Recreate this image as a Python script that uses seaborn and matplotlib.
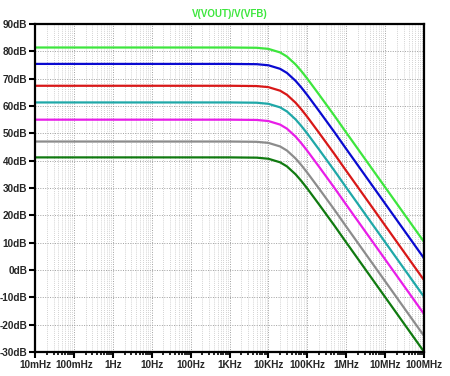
import pandas as pd
import seaborn as sns
import matplotlib.pyplot as plt
from matplotlib.ticker import LogLocator, FixedLocator, NullFormatter

# frequency points (Hz)
freq = [0.01, 1e3, 5e3, 1e4, 2e4, 3e4, 5e4, 7e4, 1e5, 2e5, 5e5, 1e6, 1e7, 1e8]

# gain in dB for each trace, top to bottom
green = [81.4, 81.4, 81.3, 80.9, 79.6, 78.1, 75.2, 72.8, 70.0, 64.2, 56.4, 50.3, 30.3, 10.3]
blue = [75.4, 75.4, 75.3, 74.9, 73.6, 72.1, 69.2, 66.8, 64.0, 58.2, 50.4, 44.3, 24.3, 4.3]
red = [67.4, 67.4, 67.3, 66.9, 65.6, 64.1, 61.2, 58.8, 56.0, 50.2, 42.4, 36.3, 16.3, -3.7]
cyan = [61.3, 61.3, 61.2, 60.8, 59.5, 58.0, 55.1, 52.7, 49.9, 44.1, 36.3, 30.2, 10.2, -9.8]
magenta = [55.0, 55.0, 54.9, 54.5, 53.2, 51.7, 48.8, 46.4, 43.6, 37.8, 30.0, 23.9, 3.9, -16.1]
gray = [47.0, 47.0, 46.9, 46.5, 45.2, 43.7, 40.8, 38.4, 35.6, 29.8, 22.0, 15.9, -4.1, -24.1]
dkgreen = [41.2, 41.2, 41.1, 40.7, 39.4, 37.9, 35.0, 32.6, 29.8, 24.0, 16.2, 10.1, -9.9, -29.9]

traces = {"green": green, "blue": blue, "red": red, "cyan": cyan,
          "magenta": magenta, "gray": gray, "dkgreen": dkgreen}
colors = {"green": "#3de63d", "blue": "#0a0ad0", "red": "#d81818", "cyan": "#1fa8a8",
          "magenta": "#e81ee8", "gray": "#8c8c8c", "dkgreen": "#107a10"}

x_ticks = [1e-2, 1e-1, 1, 1e1, 1e2, 1e3, 1e4, 1e5, 1e6, 1e7, 1e8]
x_labels = ["10mHz", "100mHz", "1Hz", "10Hz", "100Hz", "1KHz", "10KHz",
            "100KHz", "1MHz", "10MHz", "100MHz"]
y_ticks = list(range(-30, 91, 10))
y_labels = [f"{v}dB" for v in y_ticks]

rows = []
for name, vals in traces.items():
    for f, v in zip(freq, vals):
        rows.append({"freq": f, "db": v, "trace": name})
df = pd.DataFrame(rows)

sns.set_theme(style="white")
plt.rcParams["font.family"] = ["Liberation Sans", "DejaVu Sans"]

fig = plt.figure(figsize=(4.5, 3.76), dpi=100)
ax = fig.add_axes([35 / 450, 24 / 376, 389 / 450, 328 / 376])

sns.lineplot(data=df, x="freq", y="db", hue="trace", palette=colors,
             linewidth=1.6, legend=False, sort=False, ax=ax)

ax.set_xscale("log")
ax.set_xlim(1e-2, 1e8)
ax.set_ylim(-30, 90)

ax.xaxis.set_major_locator(FixedLocator(x_ticks))
ax.set_xticklabels(x_labels)
ax.xaxis.set_minor_locator(LogLocator(base=10, subs=range(2, 10), numticks=100))
ax.xaxis.set_minor_formatter(NullFormatter())
ax.set_yticks(y_ticks)
ax.set_yticklabels(y_labels)

ax.grid(True, which="major", axis="both", color="#a0a0a0", linestyle=(0, (1, 1.5)), linewidth=0.7)
ax.grid(True, which="minor", axis="x", color="#c4c4c4", linestyle=(0, (1, 1.5)), linewidth=0.6)

for s in ax.spines.values():
    s.set_color("black")
    s.set_linewidth(1.6)

ax.tick_params(axis="both", which="major", direction="out", length=4, width=1.5,
               color="black", labelsize=7.2, pad=1.5)
ax.tick_params(axis="x", which="minor", direction="out", length=2.5, width=1.2,
               color="black", bottom=True)
ax.tick_params(axis="x", which="major", bottom=True, pad=2)
ax.tick_params(axis="y", which="major", left=True)
for lab in ax.get_xticklabels() + ax.get_yticklabels():
    lab.set_fontweight("bold")

ax.set_xlabel("")
ax.set_ylabel("")
ax.set_title("V(VOUT)/V(VFB)", color="#3de63d", fontsize=7, fontweight="bold", pad=5)

fig.savefig("out.png", dpi=100)
